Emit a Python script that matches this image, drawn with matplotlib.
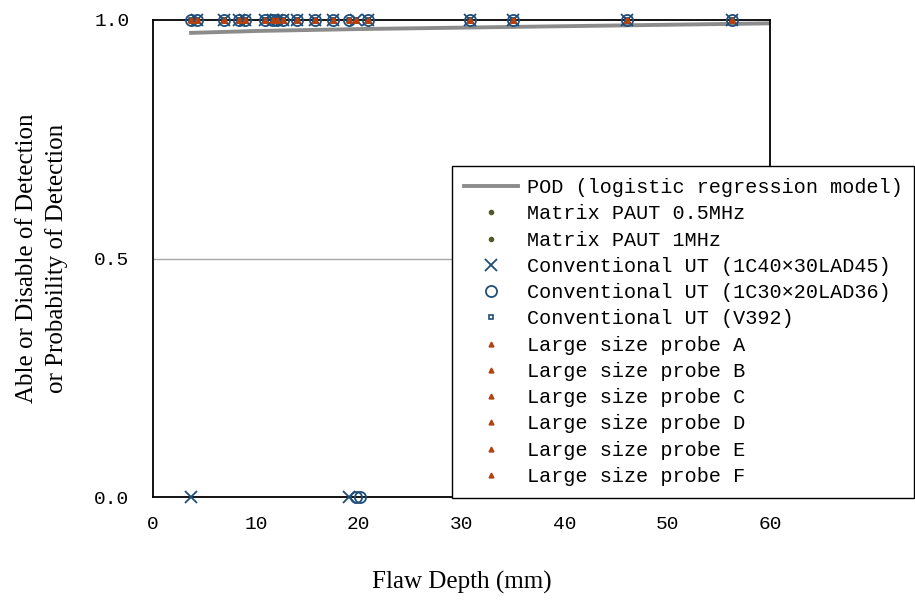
import matplotlib.pyplot as plt

# ---------------- data ----------------
pod_x = [3.7, 10, 20, 30, 40, 50, 60]
pod_y = [0.973, 0.977, 0.981, 0.984, 0.987, 0.990, 0.993]

# flaw depths detected (y=1) / missed (y=0)
detected = [3.7, 4.3, 6.9, 8.4, 8.9, 10.9, 11.7, 12.1, 12.6, 14.0, 15.8,
            17.5, 19.1, 19.7, 20.9, 30.8, 35.0, 46.1, 56.3]

paut05_x = detected
paut05_y = [1] * len(detected)
paut1_x = detected
paut1_y = [1] * len(detected)

ut45_x = [3.7, 4.3, 6.9, 8.4, 8.9, 10.9, 11.7, 12.1, 12.6, 14.0, 15.8,
          17.5, 19.1, 19.7, 20.9, 30.8, 35.0, 46.1, 56.3]
ut45_y = [0, 1, 1, 1, 1, 1, 1, 1, 1, 1, 1, 1, 0, 1, 1, 1, 1, 1, 1]

ut36_x = [3.7, 4.3, 6.9, 8.4, 8.9, 10.9, 11.7, 12.1, 12.6, 14.0, 15.8,
          17.5, 19.1, 19.7, 20.1, 20.9, 30.8, 35.0, 46.1, 56.3]
ut36_y = [1, 1, 1, 1, 1, 1, 1, 1, 1, 1, 1, 1, 1, 0, 0, 1, 1, 1, 1, 1]

v392_x = detected
v392_y = [1] * len(detected)

probe_names = ["A", "B", "C", "D", "E", "F"]
probe_x = [detected] * 6
probe_y = [[1] * len(detected)] * 6

navy = "#1F4E79"
brown = "#B5410F"
olive = "#4F5A28"

fig = plt.figure(figsize=(9.15, 6.03), dpi=100)
ax = fig.add_axes([153 / 915, 106 / 603, 617 / 915, 477 / 603])

ax.axhline(0.5, color="#A6A6A6", lw=1.0, zorder=1)

ax.plot(pod_x, pod_y, color="#8C8C8C", lw=2.8, zorder=2,
        label="POD (logistic regression model)")
ax.plot(paut05_x, paut05_y, ls="none", marker="o", ms=3, color=olive,
        clip_on=False, zorder=3, label="Matrix PAUT 0.5MHz")
ax.plot(paut1_x, paut1_y, ls="none", marker="o", ms=3, color=olive,
        clip_on=False, zorder=3, label="Matrix PAUT 1MHz")
ax.plot(ut45_x, ut45_y, ls="none", marker="x", ms=9, mew=1.3, color=navy,
        clip_on=False, zorder=4, label="Conventional UT (1C40×30LAD45)")
ax.plot(ut36_x, ut36_y, ls="none", marker="o", ms=8, mew=1.3, mfc="none",
        color=navy, clip_on=False, zorder=4,
        label="Conventional UT (1C30×20LAD36)")
ax.plot(v392_x, v392_y, ls="none", marker="s", ms=3.5, mew=1.2, mfc="none",
        color=navy, clip_on=False, zorder=4, label="Conventional UT (V392)")
for name, px, py in zip(probe_names, probe_x, probe_y):
    ax.plot(px, py, ls="none", marker="^", ms=3.5, color=brown,
            clip_on=False, zorder=5, label="Large size probe " + name)

ax.set_xlim(0, 60)
ax.set_ylim(0, 1)
ax.set_xticks([0, 10, 20, 30, 40, 50, 60])
ax.set_yticks([0, 0.5, 1.0])
ax.set_yticklabels(["0.0", "0.5", "1.0"])
ax.tick_params(length=0, labelsize=14, pad=17)
for lab in ax.get_xticklabels() + ax.get_yticklabels():
    lab.set_family(["Liberation Mono", "DejaVu Sans"])
ax.tick_params(axis="x", pad=14)

for s in ax.spines.values():
    s.set_linewidth(1.3)
    s.set_color("black")

ax.set_xlabel("Flaw Depth (mm)", family="Liberation Serif", fontsize=18,
              labelpad=27)
ax.set_ylabel("Able or Disable of Detection\nor Probability of Detection",
              family="Liberation Serif", fontsize=18, linespacing=1.4,
              labelpad=19)

leg = fig.legend(loc="upper left", bbox_to_anchor=(452 / 915, 1 - 166 / 603),
                 borderaxespad=0, fancybox=False, framealpha=1,
                 edgecolor="black", prop={"family": ["Liberation Mono", "DejaVu Sans"], "size": 14.5},
                 handlelength=2.7, handletextpad=0.4, labelspacing=0.36,
                 borderpad=0.6, numpoints=1)
leg.get_frame().set_linewidth(1.0)

fig.savefig("out.png", dpi=100)
